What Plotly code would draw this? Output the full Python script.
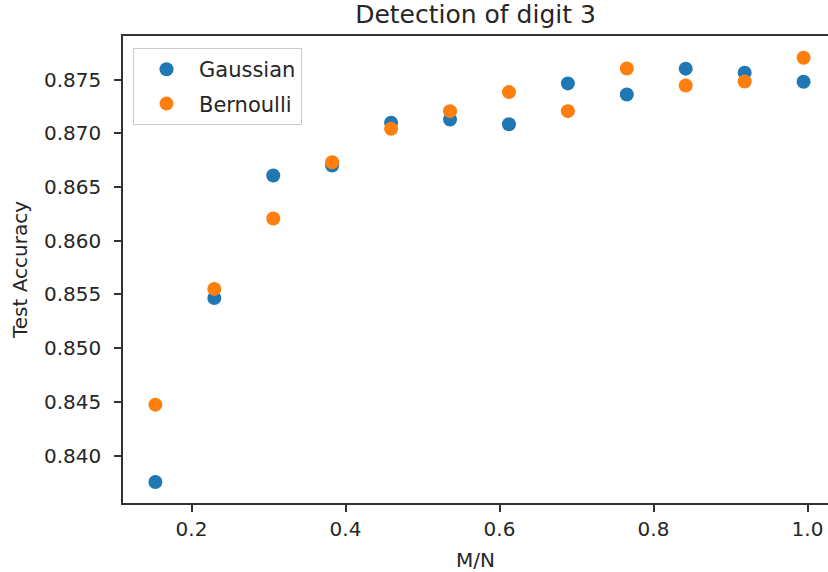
import plotly.graph_objects as go

# Data
m_values = [120, 180, 240, 300, 360, 420, 480, 540, 600, 660, 720, 780]
n_value = 784
ratio = [m / n_value for m in m_values]

gaussian = [0.83755, 0.85468, 0.86607, 0.86700, 0.87098, 0.87128,
            0.87084, 0.87464, 0.87361, 0.87601, 0.87563, 0.87479]
bernoulli = [0.84475, 0.85552, 0.86207, 0.86730, 0.87042, 0.87206,
             0.87383, 0.87206, 0.87603, 0.87445, 0.87482, 0.87703]

y_ticks = [0.840, 0.845, 0.850, 0.855, 0.860, 0.865, 0.870, 0.875]
x_ticks = [0.2, 0.4, 0.6, 0.8, 1.0]

FONT = "DejaVu Sans"
TXT = "#262626"
LINE = "#333333"

fig = go.Figure()
fig.add_trace(go.Scatter(
    x=ratio, y=gaussian, mode="markers", name="Gaussian", legendgroup="g",
    marker=dict(color="#1f77b4", size=14, line=dict(width=0)),
))
fig.add_trace(go.Scatter(
    x=ratio, y=bernoulli, mode="markers", name="Bernoulli", legendgroup="b",
    marker=dict(color="#ff7f0e", size=14, line=dict(width=0)),
))

fig.update_layout(
    width=828, height=572,
    margin=dict(l=123, r=0, t=36, b=69),
    paper_bgcolor="white", plot_bgcolor="white",
    font=dict(family=FONT, size=20, color=TXT),
    title=dict(text="Detection of digit 3", x=0.5, xanchor="center",
               xref="paper", yref="paper", y=1, yanchor="bottom",
               pad=dict(b=13), font=dict(size=25, family=FONT, color=TXT)),
    showlegend=True,
    legend=dict(x=0.0142, y=0.974, xanchor="left", yanchor="top",
                bordercolor="#cccccc", borderwidth=1, bgcolor="rgba(255,255,255,0.8)",
                font=dict(size=21, family=FONT, color=TXT),
                tracegroupgap=4, itemsizing="trace", itemwidth=55),
    xaxis=dict(range=[0.111, 1.0266], tickvals=x_ticks,
               ticktext=["0.2", "0.4", "0.6", "0.8", "1.0"],
               showgrid=False, zeroline=False,
               showline=True, linecolor=LINE, linewidth=1.5, mirror=True,
               ticks="outside", ticklen=7, tickwidth=1.5, tickcolor=LINE,
               title=dict(text="M/N", standoff=13, font=dict(size=20, family=FONT))),
    yaxis=dict(range=[0.83560, 0.87905], tickvals=y_ticks,
               ticktext=[f"{v:.3f}" for v in y_ticks],
               showgrid=False, zeroline=False,
               showline=True, linecolor=LINE, linewidth=1.5, mirror=False,
               ticks="outside", ticklen=7, tickwidth=1.5, tickcolor=LINE,
               ticklabelstandoff=9,
               title=dict(text="Test Accuracy", standoff=11, font=dict(size=20, family=FONT))),
)

fig.write_html("out.html")
